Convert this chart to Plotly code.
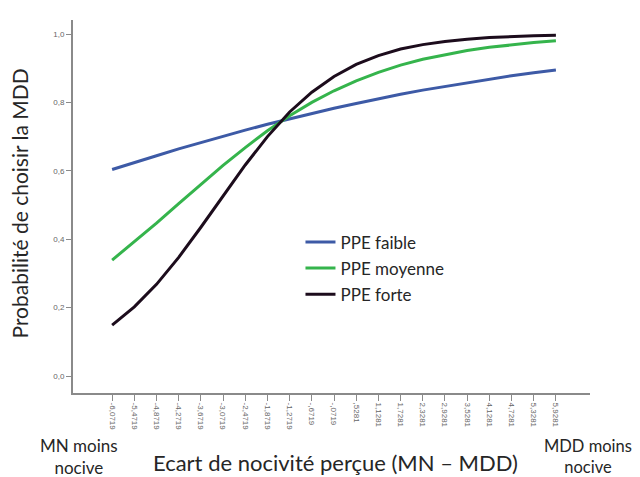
import plotly.graph_objects as go

x_vals = [-6.0719, -5.4719, -4.8719, -4.2719, -3.6719, -3.0719, -2.4719, -1.8719, -1.2719,
          -0.6719, -0.0719, 0.5281, 1.1281, 1.7281, 2.3281, 2.9281, 3.5281, 4.1281,
          4.7281, 5.3281, 5.9281]
x_labels = ["-6,0719", "-5,4719", "-4,8719", "-4,2719", "-3,6719", "-3,0719", "-2,4719",
            "-1,8719", "-1,2719", "-,6719", "-,0719", ",5281", "1,1281", "1,7281", "2,3281",
            "2,9281", "3,5281", "4,1281", "4,7281", "5,3281", "5,9281"]

ppe_faible = [0.604, 0.625, 0.644, 0.664, 0.683, 0.701, 0.719, 0.736, 0.752, 0.768, 0.783,
              0.797, 0.811, 0.824, 0.836, 0.847, 0.858, 0.868, 0.878, 0.887, 0.895]
ppe_moyenne = [0.339, 0.392, 0.447, 0.504, 0.561, 0.616, 0.668, 0.717, 0.761, 0.800, 0.834,
               0.863, 0.888, 0.909, 0.926, 0.940, 0.952, 0.961, 0.969, 0.975, 0.980]
ppe_forte = [0.149, 0.202, 0.268, 0.347, 0.435, 0.527, 0.617, 0.700, 0.772, 0.830, 0.876,
             0.911, 0.937, 0.956, 0.969, 0.978, 0.985, 0.9895, 0.9927, 0.995, 0.9965]

y_ticks = [0.0, 0.2, 0.4, 0.6, 0.8, 1.0]
y_labels = ["0,0", "0,2", "0,4", "0,6", "0,8", "1,0"]

series = [("PPE faible", ppe_faible, "#3d5aa6"),
          ("PPE moyenne", ppe_moyenne, "#35b44c"),
          ("PPE forte", ppe_forte, "#1c0c1c")]

fig = go.Figure()
for name, vals, col in series:
    fig.add_trace(go.Scatter(x=x_vals, y=vals, mode="lines", name=name, legendgroup=name,
                             line=dict(color=col, width=3)))

axis_col = "#8a8a8a"
txt_col = "#262626"
fig.update_layout(
    width=632, height=469,
    margin=dict(l=65, r=50, t=12, b=84),
    paper_bgcolor="white", plot_bgcolor="white",
    font=dict(family="Lato, Open Sans, sans-serif", color=txt_col),
    showlegend=True,
    legend=dict(x=0.44, y=0.452, xanchor="left", yanchor="top",
                bgcolor="rgba(0,0,0,0)", font=dict(size=17, color=txt_col),
                tracegroupgap=1, itemwidth=30),
    xaxis=dict(range=[-7.13, 6.85], tickvals=x_vals, ticktext=x_labels, tickangle=90,
               showgrid=False, zeroline=False, showline=True, linecolor=axis_col, linewidth=2,
               ticks="outside", ticklen=6, tickcolor=axis_col, tickwidth=1,
               tickfont=dict(size=8, color="#666666", family="Liberation Sans, Arial")),
    yaxis=dict(range=[-0.0497, 1.041], tickvals=y_ticks, ticktext=y_labels,
               showgrid=False, zeroline=False, showline=True, linecolor=axis_col, linewidth=2,
               ticks="outside", ticklen=5, tickcolor=axis_col, tickwidth=1,
               tickfont=dict(size=8, color="#666666", family="Liberation Sans, Arial")),
    annotations=[
        dict(text="Probabilité de choisir la MDD", xref="paper", yref="paper",
             x=-0.1025, y=0.508, textangle=-90, showarrow=False,
             xanchor="center", yanchor="middle", font=dict(size=21, color=txt_col)),
        dict(text="Ecart de nocivité perçue (MN – MDD)", xref="paper", yref="paper",
             x=0.508, y=-0.185, showarrow=False, xanchor="center", yanchor="middle",
             font=dict(size=22, color=txt_col)),
        dict(text="MN moins<br>nocive", xref="paper", yref="paper",
             x=0.012, y=-0.169, showarrow=False, xanchor="center", yanchor="middle",
             align="center", font=dict(size=17, color=txt_col)),
        dict(text="MDD moins<br>nocive", xref="paper", yref="paper",
             x=0.996, y=-0.169, showarrow=False, xanchor="center", yanchor="middle",
             align="center", font=dict(size=16.5, color=txt_col)),
    ],
)

fig.write_html("out.html")
